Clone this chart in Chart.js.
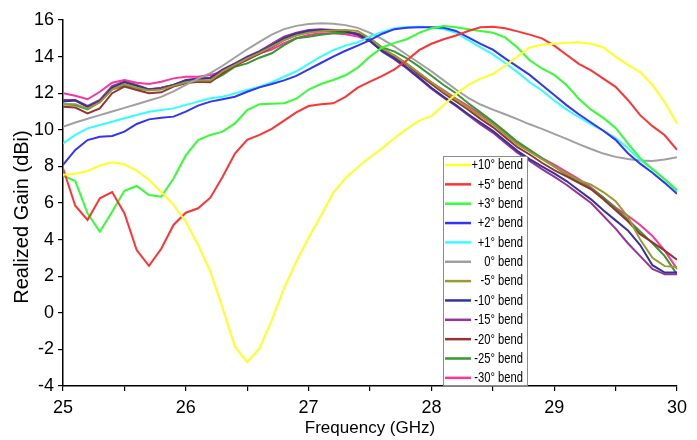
<!DOCTYPE html>
<html>
<head>
<meta charset="utf-8">
<script src="https://cdn.jsdelivr.net/npm/chart.js@4.4.1/dist/chart.umd.min.js"></script>
<style>
  html, body { margin: 0; padding: 0; background: #fff; }
  #wrap { width: 697px; height: 440px; position: relative; }
</style>
</head>
<body>
<div id="wrap"><canvas id="chart"></canvas></div>
<script>
const freq = [25.0, 25.1, 25.2, 25.3, 25.4, 25.5, 25.6, 25.7, 25.8, 25.9,
  26.0, 26.1, 26.2, 26.3, 26.4, 26.5, 26.6, 26.7, 26.8, 26.9,
  27.0, 27.1, 27.2, 27.3, 27.4, 27.5, 27.6, 27.7, 27.8, 27.9,
  28.0, 28.1, 28.2, 28.3, 28.4, 28.5, 28.6, 28.7, 28.8, 28.9,
  29.0, 29.1, 29.2, 29.3, 29.4, 29.5, 29.6, 29.7, 29.8, 29.9, 30.0];

const labels = ['+10° bend', '+5° bend', '+3° bend', '+2° bend', '+1° bend', '0° bend',
  '-5° bend', '-10° bend', '-15° bend', '-20° bend', '-25° bend', '-30° bend'];

const colors = ['#ffff22', '#ff3333', '#33ff33', '#3333ff', '#33ffff', '#a0a0a0',
  '#999933', '#333399', '#993399', '#993333', '#339933', '#ff3399'];

const bendP10 = [7.55, 7.6, 7.75, 8.05, 8.22, 8.1, 7.77, 7.26, 6.6, 5.9,
  4.98, 3.7, 2.25, 0.25, -1.85, -2.7, -1.95, -0.4, 1.35, 2.8,
  4.1, 5.3, 6.55, 7.35, 7.95, 8.5, 9.0, 9.55, 10.05, 10.5,
  10.75, 11.35, 11.95, 12.45, 12.8, 13.05, 13.5, 14.0, 14.5, 14.65,
  14.7, 14.75, 14.78, 14.7, 14.5, 14.0, 13.55, 13.15, 12.45, 11.5, 10.35];

const bendP5 = [7.9, 5.85, 5.07, 6.26, 6.6, 5.44, 3.43, 2.57, 3.5, 4.8,
  5.47, 5.71, 6.29, 7.44, 8.7, 9.45, 9.72, 10.05, 10.5, 10.95,
  11.3, 11.4, 11.45, 11.8, 12.3, 12.63, 12.95, 13.3, 13.8, 14.35,
  14.7, 14.95, 15.15, 15.4, 15.6, 15.63, 15.55, 15.38, 15.2, 15.0,
  14.6, 14.1, 13.6, 13.25, 12.8, 12.35, 11.63, 10.8, 10.2, 9.7, 8.9];

const bendP3 = [7.5, 7.2, 5.44, 4.43, 5.52, 6.67, 6.93, 6.44, 6.34, 7.34,
  8.6, 9.44, 9.72, 9.9, 10.35, 11.08, 11.4, 11.42, 11.45, 11.7,
  12.2, 12.5, 12.72, 12.98, 13.4, 14.0, 14.5, 14.75, 14.95, 15.3,
  15.55, 15.67, 15.6, 15.5, 15.4, 15.3, 15.05, 14.5, 13.8, 13.35,
  13.0, 12.45, 11.7, 11.1, 10.65, 10.1, 9.26, 8.45, 7.85, 7.3, 6.7];

const bendP2 = [8.08, 8.9, 9.44, 9.62, 9.66, 9.9, 10.32, 10.57, 10.66, 10.72,
  10.99, 11.32, 11.54, 11.67, 11.81, 12.08, 12.32, 12.5, 12.7, 12.95,
  13.3, 13.65, 14.0, 14.32, 14.6, 14.9, 15.25, 15.5, 15.58, 15.6,
  15.6, 15.58, 15.4, 15.05, 14.7, 14.38, 13.9, 13.45, 13.0, 12.45,
  11.9, 11.35, 10.85, 10.4, 9.95, 9.45, 8.72, 8.15, 7.65, 7.1, 6.5];

const bendP1 = [9.26, 9.72, 10.08, 10.26, 10.44, 10.63, 10.81, 10.99, 11.08, 11.17,
  11.36, 11.54, 11.72, 11.81, 11.99, 12.17, 12.36, 12.6, 12.9, 13.2,
  13.6, 14.0, 14.35, 14.6, 14.78, 15.1, 15.35, 15.55, 15.62, 15.63,
  15.6, 15.5, 15.3, 14.9, 14.5, 14.12, 13.65, 13.15, 12.6, 12.15,
  11.6, 11.1, 10.7, 10.3, 9.95, 9.55, 8.99, 8.35, 7.85, 7.3, 6.62];

const bend0 = [10.17, 10.4, 10.6, 10.8, 11.0, 11.2, 11.4, 11.6, 11.8, 12.1,
  12.45, 12.8, 13.1, 13.5, 13.95, 14.4, 14.8, 15.2, 15.5, 15.68,
  15.78, 15.82, 15.8, 15.72, 15.57, 15.3, 14.95, 14.55, 14.1, 13.65,
  13.2, 12.7, 12.2, 11.75, 11.38, 11.1, 10.85, 10.58, 10.3, 10.05,
  9.78, 9.5, 9.22, 8.95, 8.7, 8.52, 8.4, 8.32, 8.3, 8.38, 8.5];

const bendM5 = [11.4, 11.4, 11.15, 11.5, 12.2, 12.5, 12.3, 12.15, 12.2, 12.4,
  12.6, 12.7, 12.7, 13.2, 13.55, 13.9, 14.2, 14.55, 14.9, 15.15,
  15.3, 15.38, 15.42, 15.45, 15.4, 15.0, 14.45, 14.05, 13.6, 13.1,
  12.6, 12.1, 11.65, 11.2, 10.75, 10.3, 9.75, 9.2, 8.8, 8.4,
  8.0, 7.6, 7.25, 7.0, 6.6, 6.1, 5.25, 4.0, 3.0, 2.55, 2.5];

const bendM10 = [11.55, 11.6, 11.25, 11.55, 12.3, 12.6, 12.4, 12.2, 12.25, 12.45,
  12.7, 12.78, 12.82, 13.25, 13.6, 13.95, 14.25, 14.6, 15.0, 15.25,
  15.4, 15.45, 15.42, 15.38, 15.2, 14.85, 14.3, 13.9, 13.4, 12.85,
  12.3, 11.8, 11.35, 10.85, 10.4, 9.95, 9.4, 8.85, 8.4, 8.0,
  7.62, 7.2, 6.7, 6.2, 5.6, 5.05, 4.5, 3.7, 2.6, 2.2, 2.2];

const bendM15 = [11.63, 11.63, 11.3, 11.63, 12.39, 12.63, 12.45, 12.21, 12.3, 12.45,
  12.72, 12.81, 12.85, 13.3, 13.63, 14.0, 14.3, 14.7, 15.09, 15.31,
  15.45, 15.5, 15.45, 15.4, 15.2, 14.85, 14.27, 13.85, 13.35, 12.8,
  12.25, 11.75, 11.3, 10.8, 10.3, 9.85, 9.3, 8.75, 8.3, 7.85,
  7.44, 7.0, 6.5, 6.0, 5.3, 4.6, 3.8, 3.1, 2.4, 2.1, 2.1];

const bendM20 = [11.26, 11.22, 10.9, 11.17, 12.0, 12.36, 12.17, 12.0, 12.05, 12.36,
  12.54, 12.63, 12.6, 13.1, 13.5, 13.85, 14.15, 14.5, 14.9, 15.18,
  15.36, 15.4, 15.4, 15.38, 15.25, 14.9, 14.4, 14.0, 13.55, 13.0,
  12.5, 12.0, 11.55, 11.1, 10.6, 10.15, 9.6, 9.05, 8.65, 8.2,
  7.8, 7.45, 7.1, 6.75, 6.2, 5.6, 5.0, 4.3, 3.85, 3.4, 2.9];

const bendM25 = [11.4, 11.35, 11.12, 11.54, 12.21, 12.4, 12.23, 12.17, 12.3, 12.45,
  12.63, 12.68, 12.65, 13.0, 13.45, 13.63, 13.94, 14.18, 14.63, 15.0,
  15.09, 15.2, 15.27, 15.3, 15.25, 15.0, 14.5, 14.27, 13.91, 13.45,
  12.95, 12.45, 12.0, 11.45, 10.95, 10.45, 9.9, 9.35, 8.9, 8.45,
  8.0, 7.55, 7.15, 6.8, 6.3, 5.7, 5.1, 4.45, 3.8, 3.1, 2.1];

const bendM30 = [12.0, 11.86, 11.67, 12.08, 12.57, 12.72, 12.57, 12.5, 12.63, 12.81,
  12.9, 12.9, 13.0, 13.17, 13.54, 13.81, 14.18, 14.38, 14.73, 15.0,
  15.18, 15.27, 15.27, 15.22, 15.1, 14.85, 14.4, 14.05, 13.6, 13.1,
  12.6, 12.15, 11.7, 11.3, 10.85, 10.4, 9.85, 9.3, 8.85, 8.45,
  8.1, 7.7, 7.3, 6.85, 6.3, 5.75, 5.3, 4.8, 4.2, 3.4, 2.4];

const series = [bendP10, bendP5, bendP3, bendP2, bendP1, bend0,
  bendM5, bendM10, bendM15, bendM20, bendM25, bendM30];

const FONT = "'Liberation Sans', Arial, sans-serif";

// legend box inside the plot + y title, drawn by hand
const boxLegend = {
  id: 'boxLegend',
  afterDraw(chart) {
    const ctx = chart.ctx;
    const x0 = 443, y0 = 156, w = 84, h = 229;
    ctx.save();
    ctx.fillStyle = '#fff';
    ctx.fillRect(x0, y0, w, h);
    ctx.strokeStyle = '#8c8c8c';
    ctx.lineWidth = 1;
    ctx.strokeRect(x0 + 0.5, y0 + 0.5, w, h);
    ctx.font = '14px ' + FONT;
    ctx.textAlign = 'right';
    ctx.textBaseline = 'middle';
    chart.data.datasets.forEach((ds, i) => {
      const y = 165 + i * 19.35;
      ctx.strokeStyle = ds.borderColor;
      ctx.lineWidth = 2.5;
      ctx.beginPath();
      ctx.moveTo(445, y);
      ctx.lineTo(471, y);
      ctx.stroke();
      ctx.save();
      ctx.translate(523, y + 0.5);
      ctx.scale(0.8, 1);
      ctx.fillStyle = '#000';
      ctx.fillText(ds.label, 0, 0);
      ctx.restore();
    });

    ctx.translate(22, 217);
    ctx.rotate(-Math.PI / 2);
    ctx.textAlign = 'center';
    ctx.font = '20px ' + FONT;
    ctx.fillStyle = '#000';
    ctx.fillText('Realized Gain (dBi)', 0, 0);
    ctx.restore();
  }
};

new Chart(document.getElementById('chart'), {
  type: 'line',
  data: {
    datasets: series.map((vals, i) => ({
      label: labels[i],
      data: vals.map((v, j) => ({ x: freq[j], y: v })),
      borderColor: colors[i],
      backgroundColor: colors[i],
      borderWidth: 2,
      pointRadius: 0,
      tension: 0,
      fill: false
    }))
  },
  options: {
    responsive: true,
    maintainAspectRatio: false,
    animation: false,
    layout: { padding: { left: 0, right: 20, top: 20, bottom: 0 } },
    plugins: {
      legend: { display: false },
      tooltip: { enabled: false }
    },
    scales: {
      x: {
        type: 'linear',
        min: 25,
        max: 30,
        afterFit: s => { s.height = 54; },
        border: { display: true, color: '#000', width: 1.5 },
        grid: { drawOnChartArea: false, color: '#000', tickLength: 5, lineWidth: 1.2 },
        ticks: {
          stepSize: 0.5,
          color: '#000',
          padding: 6,
          maxRotation: 0,
          font: { family: FONT, size: 18 },
          callback: v => (Number.isInteger(v) ? String(v) : '')
        },
        title: {
          display: true,
          text: 'Frequency (GHz)',
          color: '#000',
          font: { family: FONT, size: 17 },
          padding: { top: 0, bottom: 1 }
        }
      },
      y: {
        min: -4,
        max: 16,
        afterFit: s => { s.width = 63; },
        border: { display: true, color: '#000', width: 1.5 },
        grid: { drawOnChartArea: false, color: '#000', tickLength: 5, lineWidth: 1.2 },
        ticks: {
          stepSize: 1,
          color: '#000',
          padding: 4,
          font: { family: FONT, size: 18 },
          callback: v => (v % 2 === 0 ? String(v) : '')
        }
      }
    }
  },
  plugins: [boxLegend]
});
</script>
</body>
</html>
